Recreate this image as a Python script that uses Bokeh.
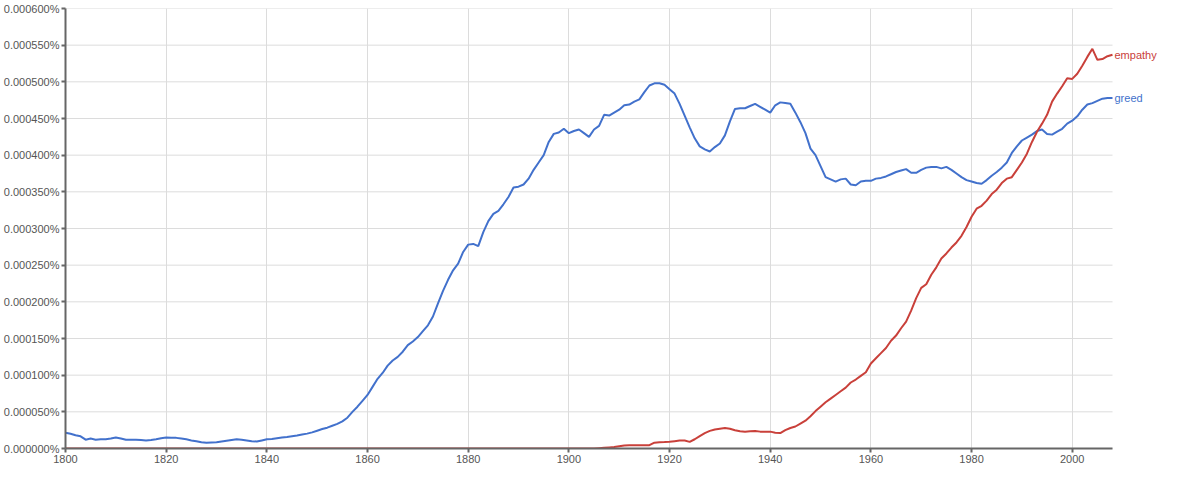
from bokeh.plotting import figure
from bokeh.models import FixedTicker, CustomJSTickFormatter, Range1d, Label
from bokeh.embed import file_html
from bokeh.resources import INLINE

# Years 1800..2008; values in millionths of a percent (e.g. 478 -> 0.000478%)
years = list(range(1800, 2009))

greed = [
    21.6, 20, 18, 16.6, 12, 13.5, 12, 12.5, 12.5, 13.5,          # 1800-1809
    14.9, 13.5, 12, 12, 12, 11.5, 11, 11.5, 12.5, 14,             # 1810-1819
    14.9, 14.7, 14.5, 13.5, 12.5, 11, 10, 8.5, 8, 8.3,            # 1820-1829
    8.5, 9.5, 10.5, 11.5, 12.5, 12, 11, 10, 9.5, 11,              # 1830-1839
    12.5, 13, 14, 15, 15.8, 16.7, 17.6, 19, 20.3, 22,             # 1840-1849
    24.3, 26.5, 28.4, 31, 33.5, 37, 42, 50, 57, 65,               # 1850-1859
    73, 84, 95, 103, 113, 120, 125, 132, 141, 146,                # 1860-1869
    152, 160, 168, 180, 198, 215, 230, 243, 252, 268,             # 1870-1879
    278, 279, 276, 295, 310, 320, 324, 333, 343, 356,             # 1880-1889
    357, 360, 368, 380, 390, 400, 418, 429, 431, 436,             # 1890-1899
    430, 433, 435, 430, 425, 435, 440, 455, 454, 458,             # 1900-1909
    462, 468, 469, 473, 476, 486, 495, 498, 498, 496,             # 1910-1919
    490, 484, 470, 454, 438, 423, 412, 408, 405, 411,             # 1920-1929
    416, 427, 446, 463, 464, 464, 467, 470, 466, 462,             # 1930-1939
    458, 468, 472, 471, 470, 458, 445, 430, 409, 400,             # 1940-1949
    385, 370, 367, 364, 367, 368, 360, 359, 364, 365,             # 1950-1959
    365, 368, 369, 371, 374, 377, 379, 381, 376, 376,             # 1960-1969
    380, 383, 384, 384, 382, 384, 380, 375, 370, 366,             # 1970-1979
    364, 362, 361, 366, 372, 377, 383, 390, 403, 412,             # 1980-1989
    420, 424, 428, 433, 435, 429, 428, 432, 436, 443,             # 1990-1999
    447, 453, 462, 469, 471, 474, 477, 478, 478,                  # 2000-2008
]

empathy = [0] * 106 + [                                            # 1800-1905
    0.5, 1, 1.5, 2,                                               # 1906-1909
    3, 4, 4.3, 4.5, 4.5, 4.5, 4.5, 8, 8.5, 8.7,                   # 1910-1919
    9.2, 10, 10.8, 10.8, 9, 12.6, 17, 21, 24, 26,                 # 1920-1929
    27, 28, 27, 25, 23.5, 23, 23.5, 24, 23, 23,                   # 1930-1939
    23, 21.5, 21, 25, 28, 30, 34, 38, 44, 51,                     # 1940-1949
    57, 63, 68, 73, 78, 83, 90, 94, 99, 104,                      # 1950-1959
    116, 123, 130, 137, 147, 154, 164, 173, 188, 205,             # 1960-1969
    219, 224, 237, 247, 259, 266, 274, 281, 290, 302,             # 1970-1979
    316, 327, 331, 338, 347, 353, 362, 368, 370, 380,             # 1980-1989
    390, 402, 418, 432, 443, 455, 473, 484, 494, 505,             # 1990-1999
    504, 511, 522, 534, 545, 530, 531, 535, 537,                  # 2000-2008
]

series_names = ["greed", "empathy"]
series_colors = ["#4271cc", "#c9403a"]
x_ticks = list(range(1800, 2001, 20))
y_ticks = list(range(0, 601, 50))
x_start, x_end = 1800, 2008

# frame extends right of 2008 to leave room for the end-of-line labels
plot_px = 1047                      # pixels for 1800..2008
frame_w = 1097
x_view_end = x_start + frame_w * (x_end - x_start) / plot_px

p = figure(
    output_backend="svg", toolbar_location=None,
    frame_width=frame_w, frame_height=440,
    min_border_left=64, min_border_right=0, min_border_top=8, min_border_bottom=17,
    x_range=Range1d(x_start, x_view_end), y_range=Range1d(0, 600),
    background_fill_color="white", border_fill_color="white",
)
p.outline_line_color = None

# horizontal gridlines that stop at the last year
p.segment(x0=[x_start] * len(y_ticks), y0=y_ticks, x1=[x_end] * len(y_ticks), y1=y_ticks,
          line_color="#dcdcdc", line_width=1, level="underlay")
p.ygrid.grid_line_color = None
p.xgrid.grid_line_color = "#dcdcdc"
p.xgrid.grid_line_width = 1

for name, vals, col in zip(series_names, [greed, empathy], series_colors):
    p.line(years, vals, line_color=col, line_width=2)
    p.add_layout(Label(x=years[-1], y=vals[-1], text=name, x_offset=2,
                       text_color=col, text_font="Liberation Sans",
                       text_font_size="11px", text_baseline="middle",
                       text_align="left"))

p.xaxis.ticker = FixedTicker(ticks=x_ticks)
p.xaxis.bounds = (x_start, x_end)
p.yaxis.ticker = FixedTicker(ticks=y_ticks)
p.yaxis.formatter = CustomJSTickFormatter(code="return (tick*1e-6).toFixed(6) + '%';")

for ax in (p.xaxis, p.yaxis):
    ax.axis_line_color = "#666666"
    ax.axis_line_width = 2
    ax.major_tick_line_color = "#666666"
    ax.major_tick_line_width = 2
    ax.major_tick_in = 0
    ax.major_tick_out = 4
    ax.minor_tick_line_color = None
    ax.major_label_text_font = "Liberation Sans"
    ax.major_label_text_font_size = "11px"
    ax.major_label_text_color = "#555555"
    ax.major_label_standoff = 2

open("out.html", "w").write(file_html(p, INLINE))
